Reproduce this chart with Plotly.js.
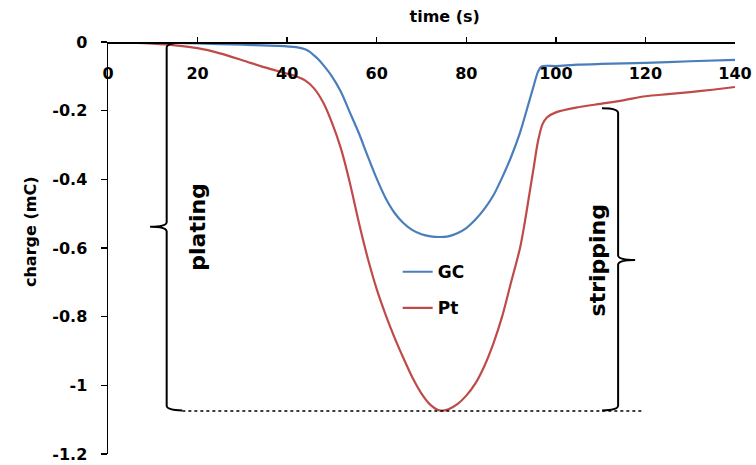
<!DOCTYPE html>
<html>
<head>
<meta charset="utf-8">
<script src="https://cdn.plot.ly/plotly-3.0.1.min.js"></script>
<style>html,body{margin:0;padding:0;background:#fff;}#chart{width:756px;height:465px;}</style>
</head>
<body>
<div id="chart"></div>
<script>
// ---- data ----
const gcTime = [0,10,20,30,38,42,44,45,46,47,48,50,52,54,56,58,60,62,64,66,68,70,72,74,76,78,80,82,84,86,88,90,92,94,95,96,96.8,100,105,110,120,130,140];
const gcCharge = [0,-0.001,-0.004,-0.008,-0.011,-0.015,-0.021,-0.028,-0.039,-0.051,-0.066,-0.1,-0.145,-0.205,-0.265,-0.333,-0.398,-0.455,-0.498,-0.528,-0.548,-0.56,-0.566,-0.568,-0.566,-0.557,-0.542,-0.518,-0.487,-0.448,-0.395,-0.335,-0.264,-0.175,-0.13,-0.087,-0.071,-0.07,-0.066,-0.064,-0.061,-0.056,-0.052];
const ptTime = [0,5,10,15,20,25,30,35,40,42,44,46,48,50,52,54,56,58,60,62,64,66,68,70,72,74,76,78,80,82,84,86,88,90,92,93,94,95,96,97,98,100,105,110,115,120,125,130,135,140];
const ptCharge = [0,-0.002,-0.005,-0.01,-0.018,-0.033,-0.053,-0.074,-0.092,-0.1,-0.112,-0.135,-0.175,-0.235,-0.31,-0.41,-0.525,-0.63,-0.72,-0.795,-0.862,-0.922,-0.978,-1.024,-1.057,-1.073,-1.07,-1.055,-1.03,-0.995,-0.945,-0.88,-0.8,-0.7,-0.6,-0.53,-0.45,-0.37,-0.29,-0.24,-0.22,-0.205,-0.19,-0.18,-0.17,-0.158,-0.152,-0.146,-0.139,-0.131];
const xTicks = [0,20,40,60,80,100,120,140];
const yTicks = [0,-0.2,-0.4,-0.6,-0.8,-1,-1.2];
const yTickText = ['0','-0.2','-0.4','-0.6','-0.8','-1','-1.2'];
const seriesNames = ['GC','Pt'];
// bracket geometry (data units)
const platingBrace = {x: 13.1, xEnd: 16.6, tip: 9.4, top: -0.002, bottom: -1.073, mid: -0.538};
const strippingBrace = {x: 113.9, xEnd: 110.3, tip: 117.7, top: -0.193, bottom: -1.073, mid: -0.635};
const dottedLine = {x0: 16.6, x1: 119.2, y: -1.075};
const bracketLabels = [{text: 'plating', x: 20.1, y: -0.538}, {text: 'stripping', x: 109.2, y: -0.636}];

const FONT = 'DejaVu Sans, sans-serif';

function bracePath(b) {
  const dy = 0.014;
  return 'M ' + b.xEnd + ',' + b.top +
    ' Q ' + b.x + ',' + b.top + ' ' + b.x + ',' + (b.top - dy) +
    ' L ' + b.x + ',' + (b.mid + dy) +
    ' Q ' + b.x + ',' + b.mid + ' ' + b.tip + ',' + b.mid +
    ' Q ' + b.x + ',' + b.mid + ' ' + b.x + ',' + (b.mid - dy) +
    ' L ' + b.x + ',' + (b.bottom + dy) +
    ' Q ' + b.x + ',' + b.bottom + ' ' + b.xEnd + ',' + b.bottom;
}

const traces = [
  {x: gcTime, y: gcCharge, name: seriesNames[0], mode: 'lines', legendgroup: 'a',
   line: {color: '#4a7ebb', width: 2.2, shape: 'spline', smoothing: 0.8}},
  {x: ptTime, y: ptCharge, name: seriesNames[1], mode: 'lines', legendgroup: 'b',
   line: {color: '#be4b48', width: 2.2, shape: 'spline', smoothing: 0.8}}
];

const layout = {
  width: 756, height: 465,
  margin: {l: 108, r: 21, t: 42, b: 11},
  paper_bgcolor: '#fff', plot_bgcolor: '#fff',
  showlegend: true,
  title: {text: 'time (s)', font: {family: FONT, size: 16, color: '#000', weight: 'bold'},
          x: 406/756, xanchor: 'center', xref: 'paper', yref: 'container', y: 1 - 16/465, yanchor: 'middle'},
  xaxis: {range: [0, 140], side: 'bottom', anchor: 'free', position: 1,
          tickvals: xTicks, ticktext: xTicks.map(String), ticks: 'inside', ticklen: 5, tickwidth: 1.5, tickcolor: '#000',
          showline: true, linecolor: '#000', linewidth: 1.5, showgrid: false, zeroline: false,
          ticklabelstandoff: 16, ticklabeloverflow: 'allow',
          tickfont: {family: FONT, size: 16, color: '#000', weight: 'bold'}},
  yaxis: {range: [-1.2, 0], tickvals: yTicks, ticktext: yTickText, ticks: 'outside', ticklen: 6, tickwidth: 1.5, tickcolor: '#000',
          showline: true, linecolor: '#000', linewidth: 1.5, showgrid: false, zeroline: false,
          ticklabelstandoff: 10, ticklabeloverflow: 'allow',
          tickfont: {family: FONT, size: 16, color: '#000', weight: 'bold'}},
  legend: {x: 0.462, y: 0.485, xanchor: 'left', yanchor: 'top', bgcolor: 'rgba(0,0,0,0)',
           traceorder: 'grouped', tracegroupgap: 11,
           font: {family: FONT, size: 17, color: '#000', weight: 'bold'}},
  shapes: [
    {type: 'path', xref: 'x', yref: 'y', path: bracePath(platingBrace), line: {color: '#000', width: 2}},
    {type: 'path', xref: 'x', yref: 'y', path: bracePath(strippingBrace), line: {color: '#000', width: 2}},
    {type: 'line', xref: 'x', yref: 'y', x0: dottedLine.x0, x1: dottedLine.x1, y0: dottedLine.y, y1: dottedLine.y,
     line: {color: '#000', width: 1.5, dash: 'dot'}}
  ],
  annotations: [
    {text: 'charge (mC)', xref: 'paper', yref: 'paper', x: (30-108)/627, y: 1 - (232-42)/412, textangle: -90,
     showarrow: false, xanchor: 'center', yanchor: 'middle', font: {family: FONT, size: 16, color: '#000', weight: 'bold'}}
  ].concat(bracketLabels.map(b => ({text: b.text, xref: 'x', yref: 'y', x: b.x, y: b.y, textangle: -90, showarrow: false,
     xanchor: 'center', yanchor: 'middle', font: {family: FONT, size: 22, color: '#000', weight: 'bold'}})))
};

Plotly.newPlot('chart', traces, layout, {staticPlot: true, displayModeBar: false});
</script>
</body>
</html>
